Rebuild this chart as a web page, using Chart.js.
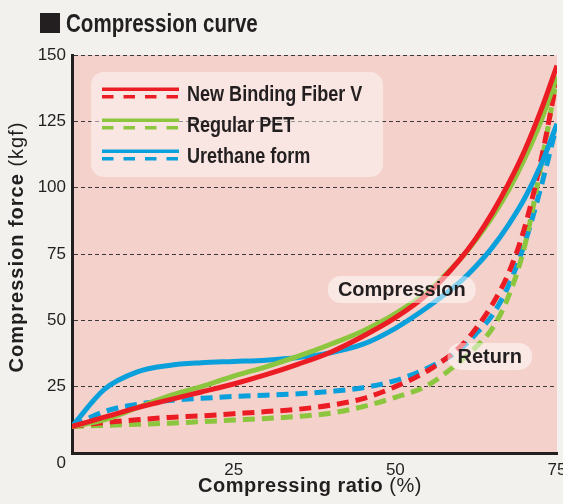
<!DOCTYPE html>
<html>
<head>
<meta charset="utf-8">
<script src="https://cdn.jsdelivr.net/npm/chart.js@4.4.1/dist/chart.umd.min.js"></script>
<style>
  html, body { margin: 0; padding: 0; background: #f2f1ee; }
  #chart { display: block; }
</style>
</head>
<body>
<canvas id="chart" width="563" height="504"></canvas>
<script>
// compressing ratio (%) shared by every curve
const ratio = [0, 5, 10, 15, 20, 25, 30, 35, 40, 45, 50, 55, 60, 62.5, 65, 67.5, 70, 72.5, 75];

// compression force (kgf) while compressing
const nbfPress = [10, 13.5, 17, 20, 23, 26, 29.5, 33.5, 38, 44, 51, 60, 73, 81, 90.5, 101.5, 114, 129, 146];
const petPress = [10, 12.5, 17, 21.5, 25, 29, 32.5, 36.5, 41, 46, 52.5, 61, 73, 80.5, 89, 99, 111, 125, 142];
const urePress = [10, 24, 30.5, 33, 34, 34.5, 35, 36, 37.8, 41, 47, 55, 64.5, 70.5, 77.5, 86, 96, 108.5, 124];

// compression force (kgf) on the way back
const nbfReturn = [10, 11.5, 12.5, 13.4, 14, 14.8, 15.6, 16.5, 18, 20.5, 25, 31, 40, 47, 56, 67.7, 85, 110, 141];
const petReturn = [10, 10.4, 10.8, 11.2, 11.8, 12.4, 13, 13.8, 15, 17.5, 21, 25.5, 34.5, 40, 47, 59, 78, 108, 142];
const ureReturn = [10, 15.6, 18.3, 19.8, 20.6, 21.3, 21.8, 22.3, 23.2, 24.6, 27.3, 32, 39, 45, 52, 63, 79, 100, 124];

const seriesNames = ["New Binding Fiber V", "Regular PET", "Urethane form"];
const seriesColors = ["#ec1c24", "#8cc63e", "#0aa0dc"];
const xTicks = [0, 25, 50, 75];
const yTicks = [0, 25, 50, 75, 100, 125, 150];

// curve labels placed in data space
const curveLabels = [
  { text: "Compression", x: 51, y: 61.6 },
  { text: "Return", x: 64.6, y: 36.4 }
];

const INK = "#231f20";
const pts = ys => ys.map((y, i) => ({ x: ratio[i], y }));

function line(data, color, dashed) {
  return {
    data: pts(data), borderColor: color, borderWidth: 5,
    borderDash: dashed ? [12, 7] : [], borderCapStyle: "butt",
    pointRadius: 0, cubicInterpolationMode: "monotone", fill: false
  };
}

function roundRect(ctx, x, y, w, h, r) {
  ctx.beginPath();
  ctx.moveTo(x + r, y);
  ctx.arcTo(x + w, y, x + w, y + h, r);
  ctx.arcTo(x + w, y + h, x, y + h, r);
  ctx.arcTo(x, y + h, x, y, r);
  ctx.arcTo(x, y, x + w, y, r);
  ctx.closePath();
}

// narrow bold text, squeezed horizontally
function narrowText(ctx, text, x, y, size, sx) {
  ctx.save();
  ctx.translate(x, y);
  ctx.scale(sx, 1);
  ctx.font = `bold ${size}px "Liberation Sans", Arial, sans-serif`;
  ctx.fillText(text, 0, 0);
  ctx.restore();
}

const decor = {
  id: "decor",
  beforeDraw(chart) {
    const { ctx, chartArea: a } = chart;
    ctx.save();
    ctx.fillStyle = "#f5d1cb";
    ctx.fillRect(a.left, a.top, a.right - a.left, a.bottom - a.top);

    // heading
    ctx.fillStyle = INK;
    ctx.fillRect(40, 13, 20, 20);
    ctx.textBaseline = "alphabetic";
    narrowText(ctx, "Compression curve", 66, 31.5, 26, 0.79);

    // y axis title
    ctx.save();
    ctx.translate(17, 247);
    ctx.rotate(-Math.PI / 2);
    ctx.letterSpacing = "1px";
    ctx.textBaseline = "middle";
    ctx.font = 'bold 20px "Liberation Sans", Arial, sans-serif';
    const b1 = "Compression force ";
    const w1 = ctx.measureText(b1).width;
    ctx.font = '20px "Liberation Sans", Arial, sans-serif';
    const w2 = ctx.measureText("(kgf)").width;
    let x0 = -(w1 + w2) / 2;
    ctx.font = 'bold 20px "Liberation Sans", Arial, sans-serif';
    ctx.fillText(b1, x0, 0);
    ctx.font = '20px "Liberation Sans", Arial, sans-serif';
    ctx.fillText("(kgf)", x0 + w1, 0);
    ctx.restore();

    // x axis title
    ctx.save();
    ctx.letterSpacing = "0.5px";
    ctx.font = 'bold 20px "Liberation Sans", Arial, sans-serif';
    const b2 = "Compressing ratio ";
    const v1 = ctx.measureText(b2).width;
    ctx.font = '20px "Liberation Sans", Arial, sans-serif';
    const v2 = ctx.measureText("(%)").width;
    x0 = 310 - (v1 + v2) / 2;
    ctx.font = 'bold 20px "Liberation Sans", Arial, sans-serif';
    ctx.fillText(b2, x0, 492);
    ctx.font = '20px "Liberation Sans", Arial, sans-serif';
    ctx.fillText("(%)", x0 + v1, 492);
    ctx.restore();
    ctx.restore();
  },
  afterDatasetsDraw(chart) {
    const { ctx, chartArea: a, scales: { x, y } } = chart;
    ctx.save();

    // legend: solid = compression, dashed = return
    const lx = a.left + 19, ly = a.top + 17;
    roundRect(ctx, lx, ly, 292, 105, 13);
    ctx.fillStyle = "rgba(255,255,255,0.45)";
    ctx.fill();
    seriesNames.forEach((name, i) => {
      const base = ly + 29 + i * 31;
      ctx.strokeStyle = seriesColors[i];
      ctx.lineWidth = 3.5;
      ctx.setLineDash([]);
      ctx.beginPath(); ctx.moveTo(lx + 11, base - 11.7); ctx.lineTo(lx + 88, base - 11.7); ctx.stroke();
      ctx.setLineDash([11.5, 10]);
      ctx.beginPath(); ctx.moveTo(lx + 11, base - 4.3); ctx.lineTo(lx + 88, base - 4.3); ctx.stroke();
      ctx.setLineDash([]);
      ctx.fillStyle = INK;
      ctx.textBaseline = "alphabetic";
      narrowText(ctx, name, lx + 96, base, 22, 0.82);
    });

    // curve labels
    ctx.font = 'bold 20px "Liberation Sans", Arial, sans-serif';
    ctx.textAlign = "center";
    ctx.textBaseline = "middle";
    curveLabels.forEach(l => {
      const px = x.getPixelForValue(l.x), py = y.getPixelForValue(l.y);
      const w = ctx.measureText(l.text).width + 20;
      roundRect(ctx, px - w / 2, py - 13.5, w, 27, 13);
      ctx.fillStyle = "rgba(255,255,255,0.5)";
      ctx.fill();
      ctx.fillStyle = INK;
      ctx.fillText(l.text, px, py + 1);
    });
    ctx.restore();
  }
};

const tickFont = { family: '"Liberation Sans", Arial, sans-serif', size: 17 };

new Chart(document.getElementById("chart"), {
  type: "line",
  data: {
    datasets: [
      line(nbfPress, seriesColors[0], false),
      line(petPress, seriesColors[1], false),
      line(urePress, seriesColors[2], false),
      line(nbfReturn, seriesColors[0], true),
      line(petReturn, seriesColors[1], true),
      line(ureReturn, seriesColors[2], true)
    ]
  },
  options: {
    responsive: false, animation: false, devicePixelRatio: 1,
    layout: { padding: { top: 55, right: 6, left: 0, bottom: 0 } },
    plugins: { legend: { display: false }, tooltip: { enabled: false } },
    scales: {
      x: {
        type: "linear", min: 0, max: 75,
        afterBuildTicks: s => { s.ticks = xTicks.map(v => ({ value: v })); },
        afterFit: s => { s.height = 51; s.paddingLeft = 0; s.paddingRight = 0; },
        ticks: { color: INK, font: tickFont, padding: 7, maxRotation: 0,
                 callback: v => v === 0 ? "" : String(v) },
        grid: { display: false, drawTicks: false },
        border: { display: true, color: INK, width: 3 }
      },
      y: {
        min: 0, max: 150,
        afterBuildTicks: s => { s.ticks = yTicks.map(v => ({ value: v })); },
        afterFit: s => { s.width = 72; s.paddingTop = 0; s.paddingBottom = 0; },
        ticks: { color: INK, font: tickFont, padding: 6,
                 callback: v => v === 0 ? ["", "0"] : String(v) },
        grid: { color: "#3a3a3a", lineWidth: 1, drawTicks: false },
        border: { display: true, color: INK, width: 3, dash: [4, 3] }
      }
    }
  },
  plugins: [decor]
});
</script>
</body>
</html>
